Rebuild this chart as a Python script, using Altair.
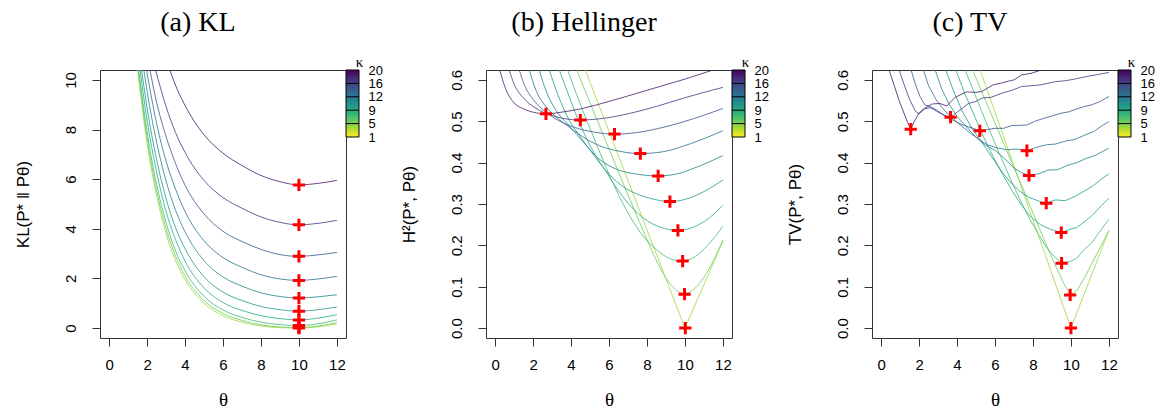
import altair as alt
import pandas as pd

# ---------------- data ----------------
theta_ticks = [0, 2, 4, 6, 8, 10, 12]
kl_y_ticks = [0, 2, 4, 6, 8, 10]
prob_y_ticks = [0.0, 0.1, 0.2, 0.3, 0.4, 0.5, 0.6]
legend_kappa = ["1", "5", "9", "12", "16", "20"]
legend_pos = [15, 16, 17, 18, 19, 20]

curve_ids = ["k1", "k2", "k3", "k4", "k5", "k6", "k7", "k8", "k9", "k10"]
curve_colors = ["#9fda3a", "#6ccd5a", "#40bd72", "#25ac82", "#1f998a",
                "#25858e", "#2d708e", "#38588c", "#453781", "#481a6c"]

# (a) KL
kl_k1 = [(1.50, 10.4), (2, 7.44), (2.5, 5.35), (3, 3.81), (3.5, 2.72), (4, 1.95), (5, 1.0), (6, 0.5), (7, 0.24), (8, 0.08), (9, 0.015), (10, 0.0), (11, 0.05), (12, 0.17)]
kl_k2 = [(1.53, 10.4), (2, 7.67), (2.5, 5.55), (3, 4.02), (3.5, 2.9), (4, 2.10), (5, 1.11), (6, 0.59), (7, 0.31), (8, 0.13), (9, 0.045), (10, 0.02), (11, 0.08), (12, 0.22)]
kl_k3 = [(1.56, 10.4), (2, 7.91), (2.5, 5.8), (3, 4.26), (3.5, 3.11), (4, 2.31), (5, 1.28), (6, 0.73), (7, 0.43), (8, 0.24), (9, 0.14), (10, 0.10), (11, 0.17), (12, 0.33)]
kl_k4 = [(1.63, 10.4), (2, 8.37), (2.5, 6.3), (3, 4.70), (3.5, 3.56), (4, 2.70), (5, 1.62), (6, 1.03), (7, 0.71), (8, 0.50), (9, 0.38), (10, 0.33), (11, 0.40), (12, 0.54)]
kl_k5 = [(1.71, 10.4), (2, 8.87), (2.5, 6.8), (3, 5.22), (3.5, 4.05), (4, 3.20), (5, 2.07), (6, 1.45), (7, 1.11), (8, 0.87), (9, 0.74), (10, 0.68), (11, 0.74), (12, 0.85)]
kl_k6 = [(1.83, 10.4), (2, 9.55), (2.5, 7.5), (3, 5.93), (3.5, 4.75), (4, 3.88), (5, 2.72), (6, 2.06), (7, 1.69), (8, 1.42), (9, 1.27), (10, 1.21), (11, 1.26), (12, 1.34)]
kl_k7 = [(1.97, 10.4), (2.5, 8.25), (3, 6.73), (3.5, 5.6), (4, 4.70), (5, 3.52), (6, 2.84), (7, 2.45), (8, 2.15), (9, 1.98), (10, 1.92), (11, 1.98), (12, 2.08)]
kl_k8 = [(2.15, 10.4), (2.5, 9.1), (3, 7.72), (3.5, 6.63), (4, 5.76), (5, 4.60), (6, 3.90), (7, 3.49), (8, 3.17), (9, 2.96), (10, 2.89), (11, 2.95), (12, 3.05)]
kl_k9 = [(2.45, 10.4), (3, 8.93), (3.5, 7.88), (4, 7.08), (5, 5.95), (6, 5.26), (7, 4.83), (8, 4.48), (9, 4.26), (10, 4.16), (11, 4.22), (12, 4.34)]
kl_k10 = [(3.2, 10.4), (3.6, 9.6), (4, 8.97), (5, 7.79), (6, 7.05), (7, 6.55), (8, 6.15), (9, 5.9), (10, 5.77), (11, 5.83), (12, 5.95)]
kl_cross_t = [10, 10, 10, 10, 10, 10, 10, 10, 10, 10]
kl_cross_v = [0.0, 0.02, 0.10, 0.33, 0.68, 1.21, 1.92, 2.89, 4.16, 5.77]

# (b) Hellinger
h_k1 = [(4.75, 0.624), (6, 0.476), (7, 0.357), (8, 0.238), (9, 0.119), (9.9, 0.012), (10, 0.0), (10.1, 0.0105), (11, 0.105), (12, 0.21)]
h_k2 = [(4.30, 0.624), (5, 0.545), (6, 0.433), (7, 0.322), (7.6, 0.257), (8.2, 0.193), (8.7, 0.145), (9.2, 0.108), (9.6, 0.09), (9.98, 0.083), (10.5, 0.095), (11, 0.123), (11.5, 0.163), (12, 0.213)]
h_k3 = [(3.82, 0.624), (4.5, 0.54), (5.2, 0.46), (5.9, 0.383), (6.6, 0.313), (7.2, 0.263), (7.8, 0.222), (8.5, 0.19), (9.2, 0.168), (9.88, 0.162), (10.5, 0.172), (11.2, 0.2), (12, 0.246)]
h_k4 = [(3.38, 0.624), (3.9, 0.56), (4.5, 0.49), (5.2, 0.425), (5.85, 0.378), (6.5, 0.332), (7.2, 0.292), (7.9, 0.263), (8.7, 0.244), (9.63, 0.236), (10.5, 0.245), (11.3, 0.267), (12, 0.297)]
h_k5 = [(2.85, 0.624), (3.3, 0.565), (3.9, 0.503), (4.5, 0.462), (5.2, 0.418), (6, 0.372), (6.8, 0.34), (7.6, 0.322), (8.4, 0.311), (9.21, 0.306), (10, 0.311), (11, 0.33), (12, 0.358)]
h_k6 = [(2.32, 0.624), (2.7, 0.572), (3.2, 0.527), (3.9, 0.489), (4.7, 0.447), (5.5, 0.408), (6.4, 0.384), (7.5, 0.372), (8.59, 0.368), (9.5, 0.372), (10.5, 0.387), (12, 0.417)]
h_k7 = [(1.80, 0.624), (2.15, 0.575), (2.6, 0.54), (3.2, 0.511), (3.9, 0.486), (4.6, 0.463), (5.5, 0.441), (6.5, 0.428), (7.65, 0.422), (8.8, 0.426), (10.3, 0.446), (12, 0.477)]
h_k8 = [(1.27, 0.624), (1.6, 0.582), (2.0, 0.553), (2.68, 0.522), (3.3, 0.503), (4.2, 0.485), (5.2, 0.474), (6.29, 0.469), (7.5, 0.473), (9, 0.487), (10.5, 0.507), (12, 0.531)]
h_k9 = [(0.74, 0.624), (1.0, 0.59), (1.5, 0.556), (2.1, 0.533), (3.0, 0.514), (3.7, 0.506), (4.49, 0.503), (5.5, 0.506), (7, 0.518), (8.5, 0.536), (10, 0.557), (12, 0.582)]
h_k10 = [(0.25, 0.624), (0.5, 0.585), (0.9, 0.55), (1.6, 0.528), (2.0, 0.522), (2.68, 0.518), (3.5, 0.522), (4.5, 0.53), (6, 0.548), (8, 0.575), (10, 0.602), (11.48, 0.624)]
h_cross_t = [10.02, 9.98, 9.88, 9.63, 9.21, 8.59, 7.65, 6.29, 4.49, 2.68]
h_cross_v = [0.0, 0.082, 0.162, 0.236, 0.306, 0.368, 0.422, 0.469, 0.503, 0.518]

# (c) TV
tv_k1 = [(5.22, 0.624), (6, 0.522), (7, 0.392), (8, 0.261), (9, 0.131), (10, 0.0), (11, 0.118), (12, 0.236)]
tv_k2 = [(4.82, 0.624), (5.5, 0.55), (6.5, 0.442), (7.5, 0.334), (8.3, 0.245), (8.9, 0.18), (9.3, 0.14), (9.6, 0.11), (9.96, 0.08), (10.3, 0.09), (10.7, 0.12), (11.2, 0.165), (11.6, 0.2), (12, 0.236)]
tv_k3 = [(4.43, 0.624), (5.0, 0.558), (5.6, 0.49), (6.2, 0.425), (6.8, 0.362), (7.3, 0.312), (7.8, 0.266), (8.3, 0.226), (8.7, 0.196), (9.1, 0.174), (9.51, 0.158), (9.9, 0.16), (10.3, 0.168), (10.7, 0.19), (11.1, 0.206), (11.5, 0.232), (12, 0.263)]
tv_k4 = [(3.94, 0.624), (4.4, 0.568), (4.9, 0.515), (5.4, 0.462), (5.9, 0.415), (6.4, 0.372), (6.9, 0.332), (7.4, 0.297), (7.9, 0.268), (8.4, 0.25), (8.9, 0.239), (9.49, 0.231), (9.9, 0.238), (10.3, 0.243), (10.8, 0.26), (11.2, 0.276), (11.6, 0.296), (12, 0.314)]
tv_k5 = [(3.41, 0.624), (3.8, 0.575), (4.3, 0.522), (4.8, 0.482), (5.3, 0.45), (5.8, 0.416), (6.3, 0.382), (6.8, 0.353), (7.3, 0.331), (7.8, 0.316), (8.3, 0.307), (8.7, 0.302), (9.2, 0.31), (9.7, 0.308), (10.2, 0.318), (10.7, 0.331), (11.2, 0.345), (11.6, 0.36), (12, 0.373)]
tv_k6 = [(2.85, 0.624), (3.2, 0.577), (3.6, 0.54), (4.0, 0.512), (4.5, 0.486), (5.0, 0.462), (5.5, 0.442), (6.0, 0.43), (6.5, 0.41), (7.0, 0.387), (7.4, 0.376), (7.79, 0.369), (8.3, 0.373), (8.8, 0.382), (9.3, 0.383), (9.8, 0.393), (10.3, 0.4), (10.8, 0.41), (11.3, 0.418), (11.7, 0.428), (12, 0.435)]
tv_k7 = [(2.23, 0.624), (2.5, 0.586), (2.9, 0.552), (3.3, 0.528), (3.7, 0.51), (4.2, 0.49), (4.7, 0.471), (5.2, 0.455), (5.6, 0.443), (6.1, 0.436), (6.6, 0.431), (7.1, 0.433), (7.68, 0.429), (8.2, 0.437), (8.7, 0.443), (9.2, 0.445), (9.7, 0.452), (10.2, 0.456), (10.7, 0.466), (11.2, 0.475), (11.6, 0.488), (12, 0.499)]
tv_k8 = [(1.58, 0.624), (1.8, 0.59), (2.05, 0.56), (2.3, 0.54), (2.6, 0.535), (2.9, 0.528), (3.3, 0.515), (3.7, 0.505), (4.1, 0.495), (4.5, 0.488), (4.9, 0.482), (5.2, 0.477), (5.6, 0.48), (6.0, 0.483), (6.45, 0.483), (6.9, 0.49), (7.3, 0.49), (7.68, 0.491), (8.1, 0.5), (8.56, 0.507), (9.0, 0.513), (9.44, 0.519), (9.9, 0.523), (10.3, 0.53), (10.67, 0.535), (11.1, 0.54), (11.5, 0.547), (12, 0.56)]
tv_k9 = [(0.95, 0.624), (1.2, 0.59), (1.5, 0.553), (1.8, 0.525), (2.0, 0.518), (2.3, 0.53), (2.6, 0.533), (2.9, 0.525), (3.3, 0.515), (3.66, 0.51), (4.0, 0.522), (4.3, 0.532), (4.6, 0.543), (5.0, 0.548), (5.3, 0.556), (5.8, 0.558), (6.36, 0.568), (6.9, 0.575), (7.4, 0.584), (7.9, 0.586), (8.4, 0.588), (8.8, 0.592), (9.2, 0.596), (9.7, 0.598), (10.2, 0.602), (10.8, 0.608), (11.4, 0.613), (12, 0.618)]
tv_k10 = [(0.42, 0.624), (0.7, 0.585), (0.95, 0.55), (1.2, 0.52), (1.4, 0.497), (1.56, 0.481), (1.75, 0.5), (2.0, 0.52), (2.3, 0.532), (2.7, 0.542), (3.1, 0.543), (3.46, 0.537), (3.9, 0.558), (4.5, 0.571), (5.0, 0.57), (5.3, 0.572), (5.9, 0.588), (6.3, 0.592), (6.7, 0.597), (7.0, 0.6), (7.4, 0.612), (7.9, 0.616), (8.45, 0.624)]
tv_cross_t = [10.0, 9.96, 9.51, 9.49, 8.70, 7.79, 7.68, 5.20, 3.66, 1.56]
tv_cross_v = [0.0, 0.080, 0.157, 0.231, 0.302, 0.369, 0.429, 0.477, 0.510, 0.481]

# ---------------- chart ----------------
XDOM = [-0.48, 12.48]
CROSS = "M-1,0L1,0M0,-1L0,1"
W, H, CBW = 246, 268, 13

viridis_stops = ["#fde725", "#addc30", "#5ec962", "#28ae80", "#21918c",
                 "#2c728e", "#3b528b", "#472d7b", "#440154"]


def frame(curves):
    rows = []
    for cid, pts in zip(curve_ids, curves):
        for i, (t, v) in enumerate(pts):
            rows.append({"curve": cid, "idx": i, "theta": t, "value": v})
    return pd.DataFrame(rows)


def colorbar():
    bar_df = pd.DataFrame({"y0": [legend_pos[0]], "y1": [legend_pos[-1]]})
    sep_df = pd.DataFrame({"b": legend_pos[1:-1]})
    expr = "".join("datum.value==%d?'%s':" % (p, l) for p, l in zip(legend_pos, legend_kappa)) + "''"
    yax = alt.Axis(orient="right", values=legend_pos, labelExpr=expr, domain=False, ticks=False,
                   grid=False, labelPadding=CBW + 9, labelFontSize=13, labelFont="Liberation Sans",
                   labelBaseline="middle", labelAlign="left", labelFlush=False, labelOverlap=False,
                   title="κ", titleAngle=0, titleX=CBW, titleY=-4, titleAlign="center",
                   titleBaseline="alphabetic", titleFont="Liberation Serif", titleFontSize=15,
                   titleFontWeight="normal")
    ysc = alt.Scale(domain=[0, 20], nice=False, zero=False)
    grad = alt.Gradient(gradient="linear", x1=0, x2=0, y1=1, y2=0,
                        stops=[alt.GradientStop(color=c, offset=i / (len(viridis_stops) - 1))
                               for i, c in enumerate(viridis_stops)])
    rect = alt.Chart(bar_df).mark_rect(fill=grad, stroke="black", strokeWidth=1).encode(
        x=alt.value(W), x2=alt.value(W + CBW),
        y=alt.Y("y0:Q", scale=ysc, axis=yax), y2="y1:Q")
    seps = alt.Chart(sep_df).mark_rule(color="black", strokeWidth=1).encode(
        x=alt.value(W), x2=alt.value(W + CBW), y=alt.Y("b:Q", scale=ysc))
    return alt.layer(rect, seps)


def panel(curves, cross_t, cross_v, ydom, yticks, yfmt, ytitle, title, interp):
    df = frame(curves)
    cdf = pd.DataFrame({"theta": cross_t, "value": cross_v})
    x = alt.X("theta:Q", scale=alt.Scale(domain=XDOM, nice=False, zero=False),
              axis=alt.Axis(values=theta_ticks, format="d", title="θ", labelFlush=False,
                            labelPadding=11, titlePadding=18, titleFont="Liberation Serif",
                            titleFontSize=19))
    y = alt.Y("value:Q", scale=alt.Scale(domain=ydom, nice=False, zero=False),
              axis=alt.Axis(orient="left", values=yticks, format=yfmt, title=ytitle,
                            labelAngle=-90, labelAlign="center", labelBaseline="bottom",
                            labelFlush=False, labelOverlap=False, labelPadding=14,
                            titlePadding=31))
    lines = alt.Chart(df).mark_line(clip=True, strokeWidth=1, opacity=0.8,
                                    interpolate=interp).encode(
        x=x, y=y,
        color=alt.Color("curve:N", scale=alt.Scale(domain=curve_ids, range=curve_colors),
                        legend=None),
        order="idx:Q")
    crosses = alt.Chart(cdf).mark_point(shape=CROSS, size=150, strokeWidth=3, color="#ff0000",
                                        filled=False, opacity=1, clip=True).encode(x=x, y=y)
    plot = alt.layer(lines, crosses)
    return alt.layer(plot, colorbar()).resolve_scale(y="independent").properties(
        width=W, height=H,
        title=alt.TitleParams(title, font="Liberation Serif", fontSize=28, fontWeight="normal",
                              color="black", anchor="middle", frame="group", dx=-25,
                              offset=-11, baseline="bottom"))


pa = panel([kl_k1, kl_k2, kl_k3, kl_k4, kl_k5, kl_k6, kl_k7, kl_k8, kl_k9, kl_k10],
           kl_cross_t, kl_cross_v, [-0.4, 10.4], kl_y_ticks, "d",
           "KL(P* ‖ Pθ)", "(a) KL", "monotone")
pb = panel([h_k1, h_k2, h_k3, h_k4, h_k5, h_k6, h_k7, h_k8, h_k9, h_k10],
           h_cross_t, h_cross_v, [-0.024, 0.624], prob_y_ticks, ".1f",
           "H²(P*, Pθ)", "(b) Hellinger", "monotone")
pc = panel([tv_k1, tv_k2, tv_k3, tv_k4, tv_k5, tv_k6, tv_k7, tv_k8, tv_k9, tv_k10],
           tv_cross_t, tv_cross_v, [-0.024, 0.624], prob_y_ticks, ".1f",
           "TV(P*, Pθ)", "(c) TV", "linear")

chart = alt.hconcat(pa, pb, pc, spacing=140, bounds="flush").properties(
    padding={"left": 5, "top": 0, "right": 0, "bottom": 0}
).configure_view(stroke="#333", strokeWidth=1).configure_axis(
    grid=False, domain=False, tickColor="#333", tickSize=8, tickWidth=1,
    labelColor="#000", titleColor="#000", labelFont="Liberation Sans", labelFontSize=15,
    titleFont="Liberation Sans", titleFontSize=17, titleFontWeight="normal"
)

chart.save("out.html", embed_options={"renderer": "svg", "actions": False})
